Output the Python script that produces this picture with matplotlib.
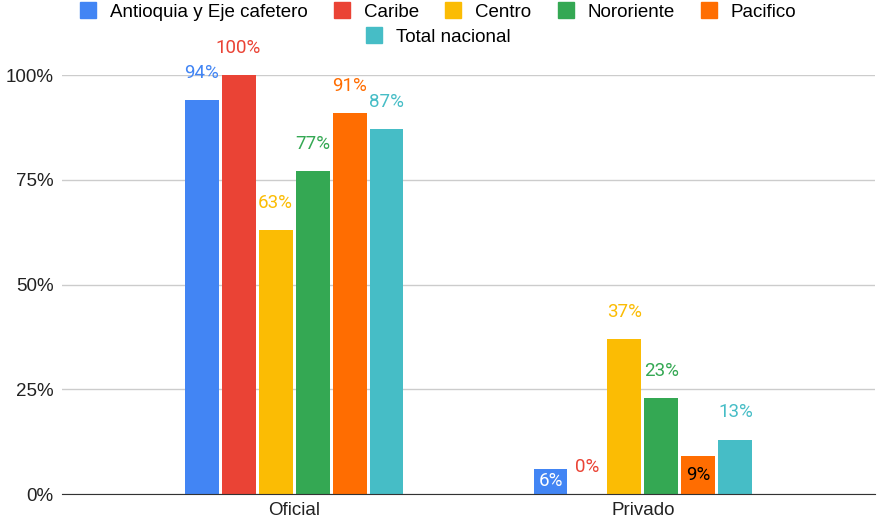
import matplotlib.pyplot as plt
from matplotlib.lines import Line2D
from matplotlib.ticker import PercentFormatter

# Data
categories = ['Oficial', 'Privado']
regions = ['Antioquia y Eje cafetero', 'Caribe', 'Centro', 'Nororiente', 'Pacifico', 'Total nacional']
colors = ['#4285F4', '#EA4335', '#FBBC04', '#34A853', '#FF6D01', '#46BDC6']
oficial = [94, 100, 63, 77, 91, 87]
privado = [6, 0, 37, 23, 9, 13]
values = [oficial, privado]  # per category

# labels drawn inside the bar instead of above (region, category)
inside = {(0, 1): 'white', (4, 1): 'black'}

fig = plt.figure(figsize=(8.78, 5.22), dpi=100)
ax = fig.add_axes([0.0706, 0.0536, 0.926, 0.8027])

width = 0.0974
step = 0.106
for r, name in enumerate(regions):
    xs = [c + (r - 2.5) * step for c in range(len(categories))]
    hs = [values[c][r] / 100 for c in range(len(categories))]
    bars = ax.bar(xs, hs, width, color=colors[r], label=name, zorder=3)
    for c, b in enumerate(bars):
        txt = '%d%%' % values[c][r]
        if (r, c) in inside:
            ax.text(b.get_x() + b.get_width() / 2, b.get_height() / 2, txt,
                    ha='center', va='center', color=inside[(r, c)],
                    fontsize=13.5, family='Roboto', zorder=4)
        else:
            ax.annotate(txt, (b.get_x() + b.get_width() / 2, b.get_height()),
                        xytext=(0, 13), textcoords='offset points',
                        ha='center', va='bottom', color=colors[r],
                        fontsize=13.5, family='Roboto', annotation_clip=False)

ax.set_xlim(-0.665, 1.665)
ax.set_ylim(0, 1)
ax.set_yticks([0, 0.25, 0.5, 0.75, 1.0])
ax.yaxis.set_major_formatter(PercentFormatter(1.0, decimals=0))
ax.set_xticks(range(len(categories)))
ax.set_xticklabels(categories)
ax.tick_params(length=0, labelsize=13.5, colors='#222222', pad=6)
for lab in ax.get_xticklabels() + ax.get_yticklabels():
    lab.set_family('Liberation Sans')
ax.grid(axis='y', color='#cccccc', linewidth=1, zorder=0)
for s in ['top', 'right', 'left']:
    ax.spines[s].set_visible(False)
ax.spines['bottom'].set_color('#333333')
ax.spines['bottom'].set_zorder(5)

handles = [Line2D([], [], marker='s', linestyle='', markersize=11, color=c) for c in colors]
leg_kw = dict(frameon=False, handlelength=0.7, handletextpad=0.8, columnspacing=1.5,
              prop={'family': 'Liberation Sans', 'size': 13.5}, borderaxespad=0)
fig.legend(handles[:5], regions[:5], loc='center', bbox_to_anchor=(0.5, 1 - 12 / 522), ncol=5, **leg_kw)
fig.legend(handles[5:], regions[5:], loc='center', bbox_to_anchor=(0.5, 1 - 37 / 522), ncol=1, **leg_kw)

plt.savefig('out.png')
